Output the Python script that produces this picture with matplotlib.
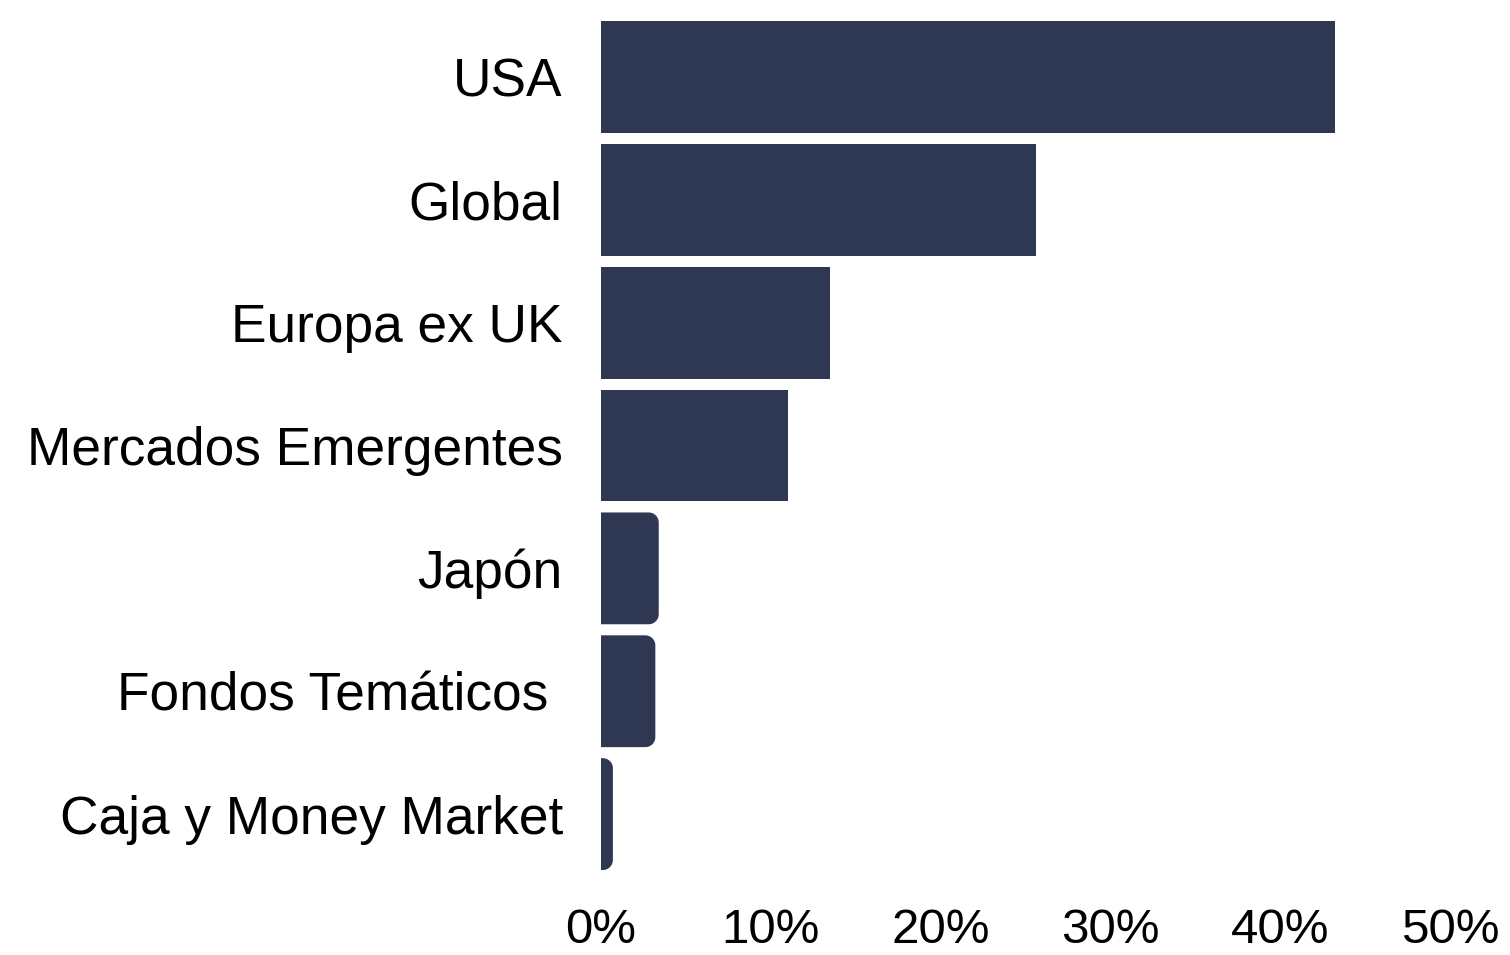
import matplotlib
matplotlib.use("Agg")
import numpy as np
import matplotlib.pyplot as plt
from matplotlib.patches import PathPatch
from matplotlib.path import Path
from matplotlib.ticker import FuncFormatter

categories = ["USA", "Global", "Europa ex UK", "Mercados Emergentes", "Japón",
              "Fondos Temáticos ", "Caja y Money Market"]
values = [43.2, 25.6, 13.5, 11.0, 3.4, 3.2, 0.7]
xticks = [0, 10, 20, 30, 40, 50]

color = "#2e3853"
W, H = 1510, 955
fig = plt.figure(figsize=(W / 100, H / 100), dpi=100)
left, right = 601, 1450
top, bottom = 21, 870
ax = fig.add_axes([left / W, 1 - bottom / H, (right - left) / W, (bottom - top) / H])

bh = 0.91
bars = ax.barh(range(len(categories)), values, height=bh, color=color)
ax.set_xlim(0, 50)
ax.set_ylim(len(categories) - 1 + bh / 2, -bh / 2)

# rounded right ends for the small bars
px_x = (right - left) / 50.0
px_y = (bottom - top) / (len(categories) - 1 + bh)
rad_px = 10
for b, v in zip(bars, values):
    if v < 5:
        b.set_visible(False)
        x0, y0, w, h = b.get_x(), b.get_y(), b.get_width(), b.get_height()
        rx = min(rad_px / px_x, w * 0.95)
        ry = rad_px / px_y
        x1, y1 = x0 + w, y0 + h
        t = np.linspace(0, np.pi / 2, 12)
        pts = [(x0, y0)]
        cx, cy = x1 - rx, y0 + ry
        pts += [(cx + rx * np.sin(a), cy - ry * np.cos(a)) for a in t]
        cx, cy = x1 - rx, y1 - ry
        pts += [(cx + rx * np.cos(a), cy + ry * np.sin(a)) for a in t]
        pts += [(x0, y1), (x0, y0)]
        ax.add_patch(PathPatch(Path(pts, closed=True), facecolor=color,
                               edgecolor="none"))

for s in ax.spines.values():
    s.set_visible(False)
ax.set_xticks(xticks)
ax.xaxis.set_major_formatter(FuncFormatter(lambda v, p: f"{v:.0f}%"))
ax.set_yticks(range(len(categories)))
ax.set_yticklabels(categories)
ax.tick_params(axis="both", length=0)
ax.tick_params(axis="y", pad=27.5, labelsize=38.3)
ax.tick_params(axis="x", pad=27, labelsize=35.5)
for t in ax.get_xticklabels():
    t.set_family("Liberation Sans")
for t in ax.get_yticklabels():
    t.set_family("Liberation Sans")

fig.savefig("out.png", dpi=100, facecolor="white")
